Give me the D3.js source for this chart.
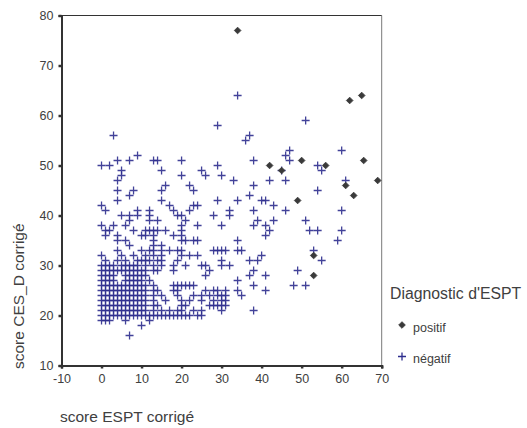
<!DOCTYPE html>
<html>
<head>
<meta charset="utf-8">
<script src="https://cdn.jsdelivr.net/npm/d3@7"></script>
<style>
  body { margin: 0; background: #fff; }
  svg { display: block; font-family: "Liberation Sans", Arial, sans-serif; }
  .axis text { fill: #404040; font-size: 12.5px; }
</style>
</head>
<body>
<div id="chart"></div>
<script>
// axis ticks
const xTicks = [-10, 0, 10, 20, 30, 40, 50, 60, 70];
const yTicks = [10, 20, 30, 40, 50, 60, 70, 80];

// legend
const legendTitle = "Diagnostic d'ESPT";
const legendLabels = ['positif', 'négatif'];

// Diagnostic positif : [score ESPT, score CES_D]
const positif = [
    [34, 77], [42, 50], [45, 49], [49, 43], [50, 51], [53, 32], [53, 28],
    [56, 50], [65.5, 51], [69, 47], [61, 46], [63, 44], [62, 63], [65, 64]
];

// Diagnostic négatif, one row per CES_D score : [score CES_D, [scores ESPT]]
const negatif = [
    [64, [34]],
    [59, [51]],
    [58, [29]],
    [56, [3, 37]],
    [55, [36]],
    [53, [47, 60]],
    [52, [9, 46]],
    [51, [4, 7, 13, 14, 20, 38, 47]],
    [50, [0, 2, 29, 54]],
    [49, [5, 15, 25, 45, 55]],
    [48, [5, 20, 26, 30]],
    [47, [4, 33, 42, 46, 61]],
    [46, [16, 22, 38]],
    [45, [4, 8, 15, 23, 54]],
    [44, [7, 37]],
    [43, [4, 15, 29, 34, 40, 41]],
    [42, [0, 17, 23, 24, 43]],
    [41, [1, 9, 12, 18, 22, 32, 38, 46, 60]],
    [40, [5, 7, 9, 12, 19, 20, 28, 32]],
    [39, [7, 12, 14, 21, 39, 43, 51]],
    [38, [0, 3, 6, 20, 24, 30, 38, 41]],
    [37, [1, 2, 8, 11, 12, 13, 14, 16, 20, 42, 52, 54, 60]],
    [36, [1, 4, 10, 11, 13, 18, 20, 41]],
    [35, [4, 6, 13, 20, 21, 23, 24, 34, 59]],
    [34, [7, 13, 15]],
    [33, [4, 10, 12, 13, 15, 17, 19, 20, 28, 29, 30, 31, 34, 35, 53]],
    [32, [0, 5, 8, 11, 13, 15, 20, 22, 24, 40]],
    [31, [1, 4, 6, 9, 10, 11, 12, 14, 15, 19, 30, 37, 39, 55]],
    [30, [0, 1, 2, 3, 5, 6, 7, 8, 9, 11, 13, 15, 18, 21, 25, 26, 30, 32]],
    [29, [0, 1, 2, 3, 4, 5, 6, 7, 8, 9, 10, 11, 13, 14, 18, 27, 38, 49]],
    [28, [0, 1, 2, 3, 6, 7, 8, 9, 10, 11, 26, 37, 41]],
    [27, [0, 1, 2, 3, 6, 7, 8, 9, 10, 12, 34]],
    [26, [0, 1, 2, 3, 4, 5, 6, 7, 8, 9, 10, 11, 13, 18, 19, 20, 21, 22, 23, 38, 48, 51]],
    [25, [0, 1, 2, 3, 4, 5, 6, 7, 8, 9, 10, 11, 13, 14, 18, 19, 26, 28, 29, 31, 34, 41]],
    [24, [0, 1, 2, 3, 4, 5, 6, 7, 8, 9, 10, 11, 13, 15, 19, 23, 25, 27, 29, 30, 31, 35]],
    [23, [0, 1, 2, 3, 4, 5, 6, 7, 8, 9, 10, 11, 13, 16, 20, 22, 25, 28, 30, 31]],
    [22, [0, 1, 2, 3, 4, 5, 6, 7, 8, 9, 10, 11, 13, 14, 20, 21, 27, 28, 29, 30, 31]],
    [21, [0, 1, 2, 3, 4, 5, 6, 7, 8, 9, 10, 11, 13, 15, 17, 19, 20, 23, 25, 30, 38]],
    [20, [0, 1, 2, 3, 4, 5, 6, 7, 8, 9, 10, 11, 12, 13, 14, 15, 16, 17, 18, 19, 20, 21, 22, 24, 25]],
    [19, [0, 1, 2, 6, 12]],
    [18, [10]],
    [16, [7]]
];

const width = 527, height = 428;
const crossColor = '#2e2e8e';
const diamondColor = '#3a3a3a';
const textColor = '#404040';

const svg = d3.select('#chart')
    .append('svg')
    .attr('width', width)
    .attr('height', height);

const x = d3.scaleLinear().domain([-10, 70]).range([61.5, 381.7]);
const y = d3.scaleLinear().domain([10, 80]).range([365.5, 15.5]);

// frame (top / right)
svg.append('line')
    .attr('x1', x(-10)).attr('x2', x(70))
    .attr('y1', y(80)).attr('y2', y(80))
    .attr('stroke', '#333').attr('stroke-width', 1.2);
svg.append('line')
    .attr('x1', x(70)).attr('x2', x(70))
    .attr('y1', y(80)).attr('y2', y(10))
    .attr('stroke', '#555').attr('stroke-width', 0.8);

// axes (plain hyphen for negatives, as in the original)
const xAxis = svg.append('g')
    .attr('class', 'axis')
    .attr('transform', `translate(0,${y(10)})`)
    .call(d3.axisBottom(x).tickValues(xTicks).tickSize(3).tickPadding(6)
        .tickFormat(d => String(d)));
const yAxis = svg.append('g')
    .attr('class', 'axis')
    .attr('transform', `translate(${x(-10)},0)`)
    .call(d3.axisLeft(y).tickValues(yTicks).tickSize(3).tickPadding(5)
        .tickFormat(d => String(d)));

[xAxis, yAxis].forEach(g => {
    g.select('.domain').attr('stroke', '#333').attr('stroke-width', 2);
    g.selectAll('.tick line').attr('stroke', '#333').attr('stroke-width', 2.5);
});

// negatif crosses
const crossPath = 'M-4,0H4M0,-4V4';
const negPoints = negatif.flatMap(([cesd, espts]) => espts.map(e => [e, cesd]));

svg.append('g')
    .selectAll('path')
    .data(negPoints)
    .join('path')
    .attr('d', crossPath)
    .attr('transform', d => `translate(${x(d[0])},${y(d[1])})`)
    .attr('fill', 'none')
    .attr('stroke', crossColor)
    .attr('stroke-width', 1.3)
    .attr('opacity', 0.9);

// positif diamonds
const diamond = d3.symbol().type(d3.symbolSquare).size(22);
svg.append('g')
    .selectAll('path')
    .data(positif)
    .join('path')
    .attr('d', diamond)
    .attr('transform', d => `translate(${x(d[0])},${y(d[1])}) rotate(45)`)
    .attr('fill', diamondColor)
    .attr('stroke', diamondColor)
    .attr('stroke-width', 0.8);

// axis titles
svg.append('text')
    .attr('x', 60)
    .attr('y', 422)
    .attr('fill', textColor)
    .style('font-size', '15.5px')
    .text('score ESPT corrigé');

svg.append('text')
    .attr('transform', 'translate(24,369) rotate(-90)')
    .attr('fill', textColor)
    .style('font-size', '15.5px')
    .text('score CES_D corrigé');

// legend
const legend = svg.append('g').attr('transform', 'translate(390,0)');
legend.append('text')
    .attr('x', 0)
    .attr('y', 299)
    .attr('fill', textColor)
    .style('font-size', '15.8px')
    .text(legendTitle);

legend.append('path')
    .attr('d', diamond)
    .attr('transform', 'translate(12,325) rotate(45)')
    .attr('fill', diamondColor)
    .attr('stroke', diamondColor)
    .attr('stroke-width', 0.8);
legend.append('path')
    .attr('d', crossPath)
    .attr('transform', 'translate(12,356.5)')
    .attr('fill', 'none')
    .attr('stroke', crossColor)
    .attr('stroke-width', 1.3);

legend.selectAll('text.item')
    .data(legendLabels)
    .join('text')
    .attr('class', 'item')
    .attr('x', 23)
    .attr('y', (d, i) => 332 + i * 31)
    .attr('fill', textColor)
    .style('font-size', '12.5px')
    .text(d => d);
</script>
</body>
</html>
